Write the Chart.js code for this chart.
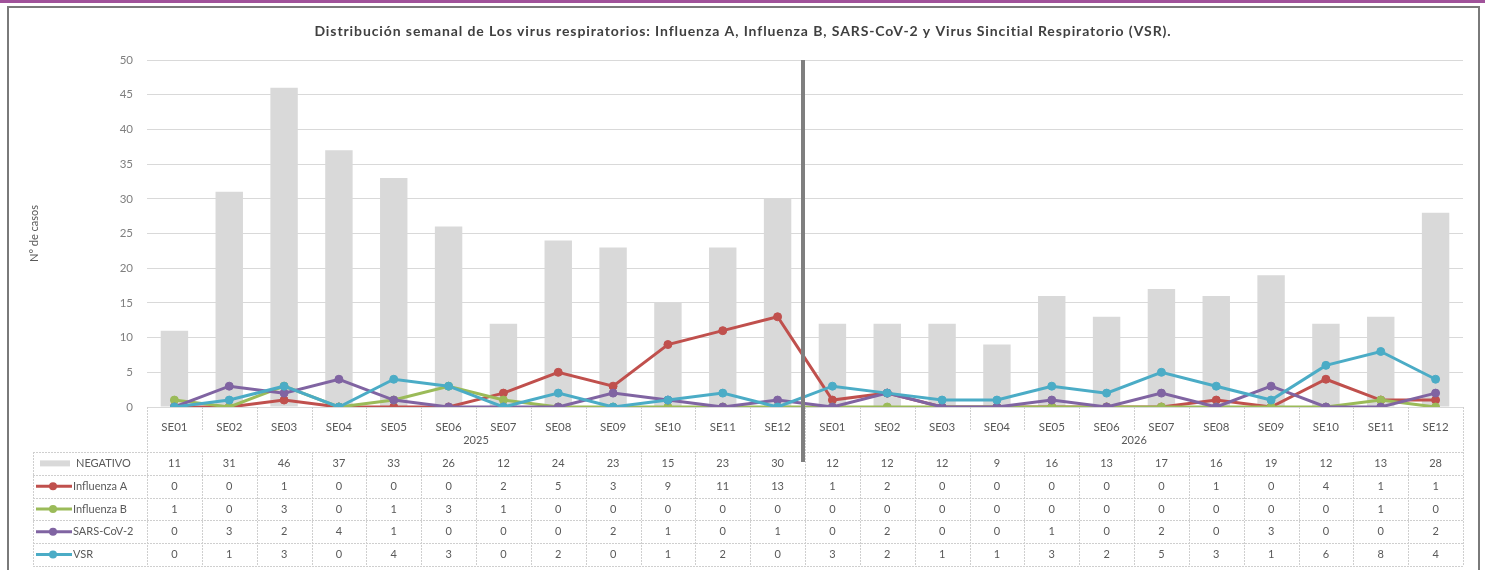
<!DOCTYPE html>
<html>
<head>
<meta charset="utf-8">
<script src="https://cdn.jsdelivr.net/npm/chart.js@4.4.1/dist/chart.umd.min.js"></script>
<style>
    body { margin: 0; background: #ffffff; }
    #chart { display: block; }
</style>
</head>
<body>
<canvas id="chart" width="1485" height="570"></canvas>
<script>
// Weeks of each year, shown under the x axis
const weeks = ['SE01', 'SE02', 'SE03', 'SE04', 'SE05', 'SE06', 'SE07', 'SE08', 'SE09', 'SE10', 'SE11', 'SE12',
               'SE01', 'SE02', 'SE03', 'SE04', 'SE05', 'SE06', 'SE07', 'SE08', 'SE09', 'SE10', 'SE11', 'SE12'];
const years = ['2025', '2026'];
const weeksPerYear = 12;

// Case counts (from the data table of the chart)
const negativo   = [11, 31, 46, 37, 33, 26, 12, 24, 23, 15, 23, 30, 12, 12, 12, 9, 16, 13, 17, 16, 19, 12, 13, 28];
const influenzaA = [0, 0, 1, 0, 0, 0, 2, 5, 3, 9, 11, 13, 1, 2, 0, 0, 0, 0, 0, 1, 0, 4, 1, 1];
const influenzaB = [1, 0, 3, 0, 1, 3, 1, 0, 0, 0, 0, 0, 0, 0, 0, 0, 0, 0, 0, 0, 0, 0, 1, 0];
const sarsCov2   = [0, 3, 2, 4, 1, 0, 0, 0, 2, 1, 0, 1, 0, 2, 0, 0, 1, 0, 2, 0, 3, 0, 0, 2];
const vsr        = [0, 1, 3, 0, 4, 3, 0, 2, 0, 1, 2, 0, 3, 2, 1, 1, 3, 2, 5, 3, 1, 6, 8, 4];

const yTicks = [0, 5, 10, 15, 20, 25, 30, 35, 40, 45, 50];

const FONT = 'Lato, "Liberation Sans", sans-serif';
const GRID = '#d9d9d9';
const TEXT = '#595959';

function lineSeries(label, data, color, order) {
    return {
        type: 'line',
        label: label,
        data: data,
        borderColor: color,
        backgroundColor: color,
        borderWidth: 3,
        pointRadius: 4,
        pointBorderWidth: 1,
        pointHoverRadius: 4,
        tension: 0,
        order: order
    };
}

// Frame, year labels, separators and the data table under the plot
const excelTable = {
    id: 'excelTable',
    beforeDraw(chart) {
        const ctx = chart.ctx;
        ctx.save();
        ctx.fillStyle = '#ffffff';
        ctx.fillRect(0, 0, chart.width, chart.height);
        // purple band at the top
        ctx.fillStyle = '#a0529a';
        ctx.fillRect(0, 0, chart.width, 3);
        // grey frame
        ctx.strokeStyle = '#7a7a7a';
        ctx.lineWidth = 2;
        ctx.strokeRect(8, 7, 1471, 570);
        // title
        ctx.fillStyle = '#404040';
        ctx.font = 'bold 14px ' + FONT;
        ctx.letterSpacing = '0.9px';
        ctx.textAlign = 'center';
        ctx.textBaseline = 'middle';
        ctx.fillText('Distribución semanal de Los virus respiratorios: Influenza A, Influenza B, SARS-CoV-2 y Virus Sincitial Respiratorio (VSR).', 743, 31);
        ctx.letterSpacing = '0px';
        ctx.restore();
    },
    afterDraw(chart) {
        const ctx = chart.ctx;
        const x = chart.scales.x;
        const area = chart.chartArea;
        const n = weeks.length;
        const colW = (x.right - x.left) / n;
        const edge = i => x.left + i * colW;

        const tableTop = 452;
        const rowH = 22.8;
        const legendLeft = 33;

        ctx.save();
        ctx.setLineDash([2, 1]);
        ctx.strokeStyle = '#cfcfcf';
        ctx.lineWidth = 1;

        // category separators under the axis
        for (let i = 0; i <= n; i++) {
            const px = Math.round(edge(i)) + 0.5;
            const long = i % weeksPerYear === 0;
            ctx.beginPath();
            ctx.moveTo(px, area.bottom);
            ctx.lineTo(px, long ? tableTop : area.bottom + 24);
            ctx.stroke();
        }

        // year labels
        ctx.setLineDash([]);
        ctx.fillStyle = TEXT;
        ctx.font = '11px ' + FONT;
        ctx.textAlign = 'center';
        ctx.textBaseline = 'middle';
        years.forEach((yr, k) => {
            const cx = (edge(k * weeksPerYear) + edge((k + 1) * weeksPerYear)) / 2;
            ctx.fillText(yr, cx, 440);
        });

        // data table
        const rows = [
            { label: 'NEGATIVO', data: negativo, color: '#d9d9d9', bar: true },
            { label: 'Influenza A', data: influenzaA, color: '#c0504d' },
            { label: 'Influenza B', data: influenzaB, color: '#9bbb59' },
            { label: 'SARS-CoV-2', data: sarsCov2, color: '#8064a2' },
            { label: 'VSR', data: vsr, color: '#4bacc6' }
        ];

        ctx.setLineDash([2, 1]);
        ctx.strokeStyle = '#cfcfcf';
        for (let r = 0; r <= rows.length; r++) {
            const py = Math.round(tableTop + r * rowH) + 0.5;
            ctx.beginPath();
            ctx.moveTo(legendLeft, py);
            ctx.lineTo(x.right, py);
            ctx.stroke();
        }
        const tableBottom = tableTop + rows.length * rowH;
        [legendLeft].concat(Array.from({ length: n + 1 }, (_, i) => edge(i))).forEach(px => {
            px = Math.round(px) + 0.5;
            ctx.beginPath();
            ctx.moveTo(px, tableTop);
            ctx.lineTo(px, tableBottom);
            ctx.stroke();
        });
        ctx.setLineDash([]);

        rows.forEach((row, r) => {
            const cy = tableTop + r * rowH + rowH / 2;
            // legend key
            if (row.bar) {
                ctx.fillStyle = row.color;
                ctx.fillRect(40, cy - 3, 30, 6);
            } else {
                ctx.strokeStyle = row.color;
                ctx.lineWidth = 3;
                ctx.beginPath();
                ctx.moveTo(36, cy);
                ctx.lineTo(72, cy);
                ctx.stroke();
                ctx.fillStyle = row.color;
                ctx.beginPath();
                ctx.arc(53, cy, 4, 0, Math.PI * 2);
                ctx.fill();
            }
            ctx.fillStyle = TEXT;
            ctx.font = '11px ' + FONT;
            ctx.textAlign = 'left';
            ctx.fillText(row.label, row.bar ? 76 : 73, cy);
            // values
            ctx.textAlign = 'center';
            row.data.forEach((v, i) => {
                ctx.fillText(String(v), x.getPixelForValue(i), cy);
            });
        });

        // thick separator between the two years
        const sepX = (x.getPixelForValue(weeksPerYear - 1) + x.getPixelForValue(weeksPerYear)) / 2 - 2;
        ctx.strokeStyle = '#7f7f7f';
        ctx.lineWidth = 4;
        ctx.beginPath();
        ctx.moveTo(sepX, area.top);
        ctx.lineTo(sepX, tableTop + 10);
        ctx.stroke();
        ctx.restore();
    }
};

new Chart(document.getElementById('chart'), {
    type: 'bar',
    data: {
        labels: weeks,
        datasets: [
            {
                label: 'NEGATIVO',
                data: negativo,
                backgroundColor: '#d9d9d9',
                barPercentage: 0.5,
                categoryPercentage: 1,
                order: 10
            },
            lineSeries('Influenza A', influenzaA, '#c0504d', 4),
            lineSeries('Influenza B', influenzaB, '#9bbb59', 3),
            lineSeries('SARS-CoV-2', sarsCov2, '#8064a2', 2),
            lineSeries('VSR', vsr, '#4bacc6', 1)
        ]
    },
    options: {
        responsive: false,
        animation: false,
        layout: { padding: { left: 0, right: 22, top: 60, bottom: 0 } },
        plugins: {
            legend: { display: false },
            title: { display: false },
            tooltip: { enabled: false }
        },
        scales: {
            x: {
                offset: true,
                grid: { display: false },
                border: { color: '#d9d9d9' },
                ticks: {
                    color: TEXT,
                    font: { family: FONT, size: 11.5 },
                    padding: 5,
                    maxRotation: 0,
                    autoSkip: false
                },
                afterFit(scale) { scale.height = 163; }
            },
            y: {
                min: 0,
                max: 50,
                afterBuildTicks(scale) { scale.ticks = yTicks.map(v => ({ value: v })); },
                grid: { color: GRID, drawTicks: false },
                border: { display: false },
                ticks: {
                    color: '#7f7f7f',
                    font: { family: FONT, size: 11.5 },
                    padding: 14
                },
                title: {
                    display: true,
                    text: 'N° de casos',
                    color: TEXT,
                    font: { family: FONT, size: 11 },
                    padding: { top: 28, bottom: 0 }
                },
                afterFit(scale) { scale.width = 147; }
            }
        }
    },
    plugins: [excelTable]
});
</script>
</body>
</html>
